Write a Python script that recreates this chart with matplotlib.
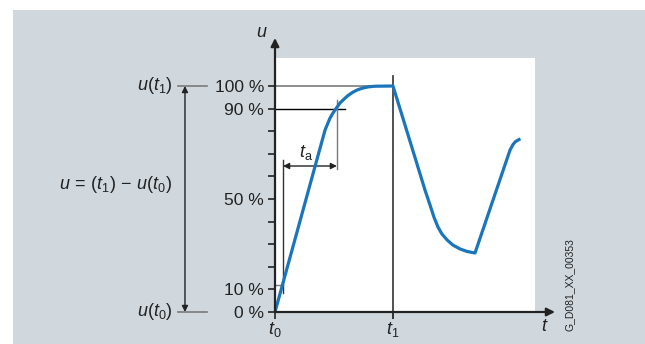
import matplotlib
matplotlib.use('Agg')
import matplotlib.pyplot as plt
from matplotlib.patches import Rectangle

plt.rcParams['font.family'] = ['Liberation Sans', 'DejaVu Sans']
plt.rcParams['mathtext.fontset'] = 'custom'
plt.rcParams['mathtext.rm'] = 'Liberation Sans'
plt.rcParams['mathtext.it'] = 'Liberation Sans:italic'

# step response curve (t in units of t1, u in %)
t_curve = [0, 0.424, 0.466, 0.492, 0.517, 0.551, 0.585, 0.619, 0.661,
           0.703, 0.746, 0.788, 0.847, 1.0,
           1.271, 1.314, 1.347, 1.381, 1.415, 1.458, 1.508, 1.568, 1.627, 1.695,
           1.992, 2.017, 2.038, 2.068]
u_curve = [0, 80.5, 85.8, 88.1, 90.0, 92.5, 94.2, 95.8, 97.3,
           98.4, 99.1, 99.6, 99.9, 100,
           54.0, 47.3, 42.0, 37.6, 34.5, 31.9, 29.6, 27.9, 26.8, 26.1,
           71.7, 74.1, 75.4, 76.3]

y_ticks = [0, 10, 20, 30, 40, 50, 60, 70, 80, 90, 100]
y_labelled = [0, 10, 50, 90, 100]
x_ticks = [0, 1]
x_ticklabels = [r'$t_0$', r'$t_1$']

t_a_start, t_a_end = 0.068, 0.525
u_cross = 11.9

blue = '#1b75bb'
grey = '#7a7a7a'
dark = '#222222'
panel = '#d0d8de'

W, H = 645, 344
fig = plt.figure(figsize=(W / 100, H / 100), dpi=100)
fig.patch.set_facecolor('white')
fig.patches.append(Rectangle((13 / W, 0), 1, 334 / H, transform=fig.transFigure,
                             facecolor=panel, edgecolor='none', zorder=-10))

ax = fig.add_axes([275 / W, 32 / H, 280 / W, 274 / H])
ax.set_facecolor('none')
ax.set_xlim(0, 280 / 118)
ax.set_ylim(0, 274 / 2.26)
for s in ax.spines.values():
    s.set_visible(False)

# white plotting area
ax.add_patch(Rectangle((0, 0), 260 / 118, 254 / 2.26, facecolor='white',
                       edgecolor='none', zorder=0))

# axes with arrows
arr = dict(arrowstyle='-|>', color=dark, lw=1.6, mutation_scale=12,
           shrinkA=0, shrinkB=0)
ax.annotate('', xy=(0, 274 / 2.26), xytext=(0, 0), arrowprops=arr,
            annotation_clip=False, zorder=5)
ax.annotate('', xy=(280 / 118, 0), xytext=(0, 0), arrowprops=arr,
            annotation_clip=False, zorder=5)

ax.set_yticks(y_ticks)
ax.set_yticklabels([f'{v} %' if v in y_labelled else '' for v in y_ticks])
ax.tick_params(axis='y', length=5, width=1.2, color=dark, pad=3,
               labelsize=12.5, labelcolor=dark)
ax.set_xticks(x_ticks)
ax.set_xticklabels(x_ticklabels)
ax.tick_params(axis='x', length=5, width=1.2, color=dark, pad=1,
               labelsize=13, labelcolor=dark)

# reference lines
ax.plot([0, 1], [100, 100], color=grey, lw=1.2, zorder=2)
ax.plot([0, 0.593], [90, 90], color='black', lw=1.0, zorder=2)
ax.plot([0, t_a_start], [u_cross, u_cross], color=grey, lw=1.0, zorder=2)
ax.plot([t_a_start, t_a_start], [8.4, 67.3], color='#333333', lw=1.0, zorder=2)
ax.plot([t_a_end, t_a_end], [63.3, 93.8], color=grey, lw=1.0, zorder=2)
ax.plot([1, 1], [-2.6, 104.4], color='#333333', lw=1.2, zorder=2, clip_on=False)

ax.annotate('', xy=(t_a_start, 64.6), xytext=(t_a_end, 64.6),
            arrowprops=dict(arrowstyle='<|-|>', color=dark, lw=1.0,
                            mutation_scale=9, shrinkA=0, shrinkB=0), zorder=3)
ax.text(0.26, 70.4, r'$t_\mathrm{a}$', fontsize=13, ha='center', va='center',
        color=dark)

# curve
ax.plot(t_curve, u_curve, color=blue, lw=2.3, zorder=4, solid_joinstyle='round')

# left annotation
for y in [0, 100]:
    ax.plot([-0.822, -0.576], [y, y], color=grey, lw=1.2, clip_on=False)
ax.annotate('', xy=(-0.763, 100), xytext=(-0.763, 0),
            arrowprops=dict(arrowstyle='<|-|>', color=dark, lw=1.0,
                            mutation_scale=9, shrinkA=0, shrinkB=0),
            annotation_clip=False)
ax.text(-0.873, 100, r'$u(t_1)$', fontsize=13, ha='right', va='center',
        color=dark)
ax.text(-0.873, 0, r'$u(t_0)$', fontsize=13, ha='right', va='center',
        color=dark)
ax.text(-0.873, 56.2, r'$u\,=\,(t_1)\,-\,u(t_0)$', fontsize=13, ha='right',
        va='center', color=dark)

ax.text(-0.11, 123.5, r'$u$', fontsize=13, ha='center', va='center',
        color=dark, clip_on=False)
ax.text(2.288, -6.6, r'$t$', fontsize=13, ha='center', va='center',
        color=dark, clip_on=False)

fig.text(570 / W, 1 - 285 / H, 'G_D081_XX_00353', rotation=90, fontsize=7.5,
         ha='center', va='center', color=dark)

fig.savefig('out.png', dpi=100, facecolor=fig.get_facecolor())
